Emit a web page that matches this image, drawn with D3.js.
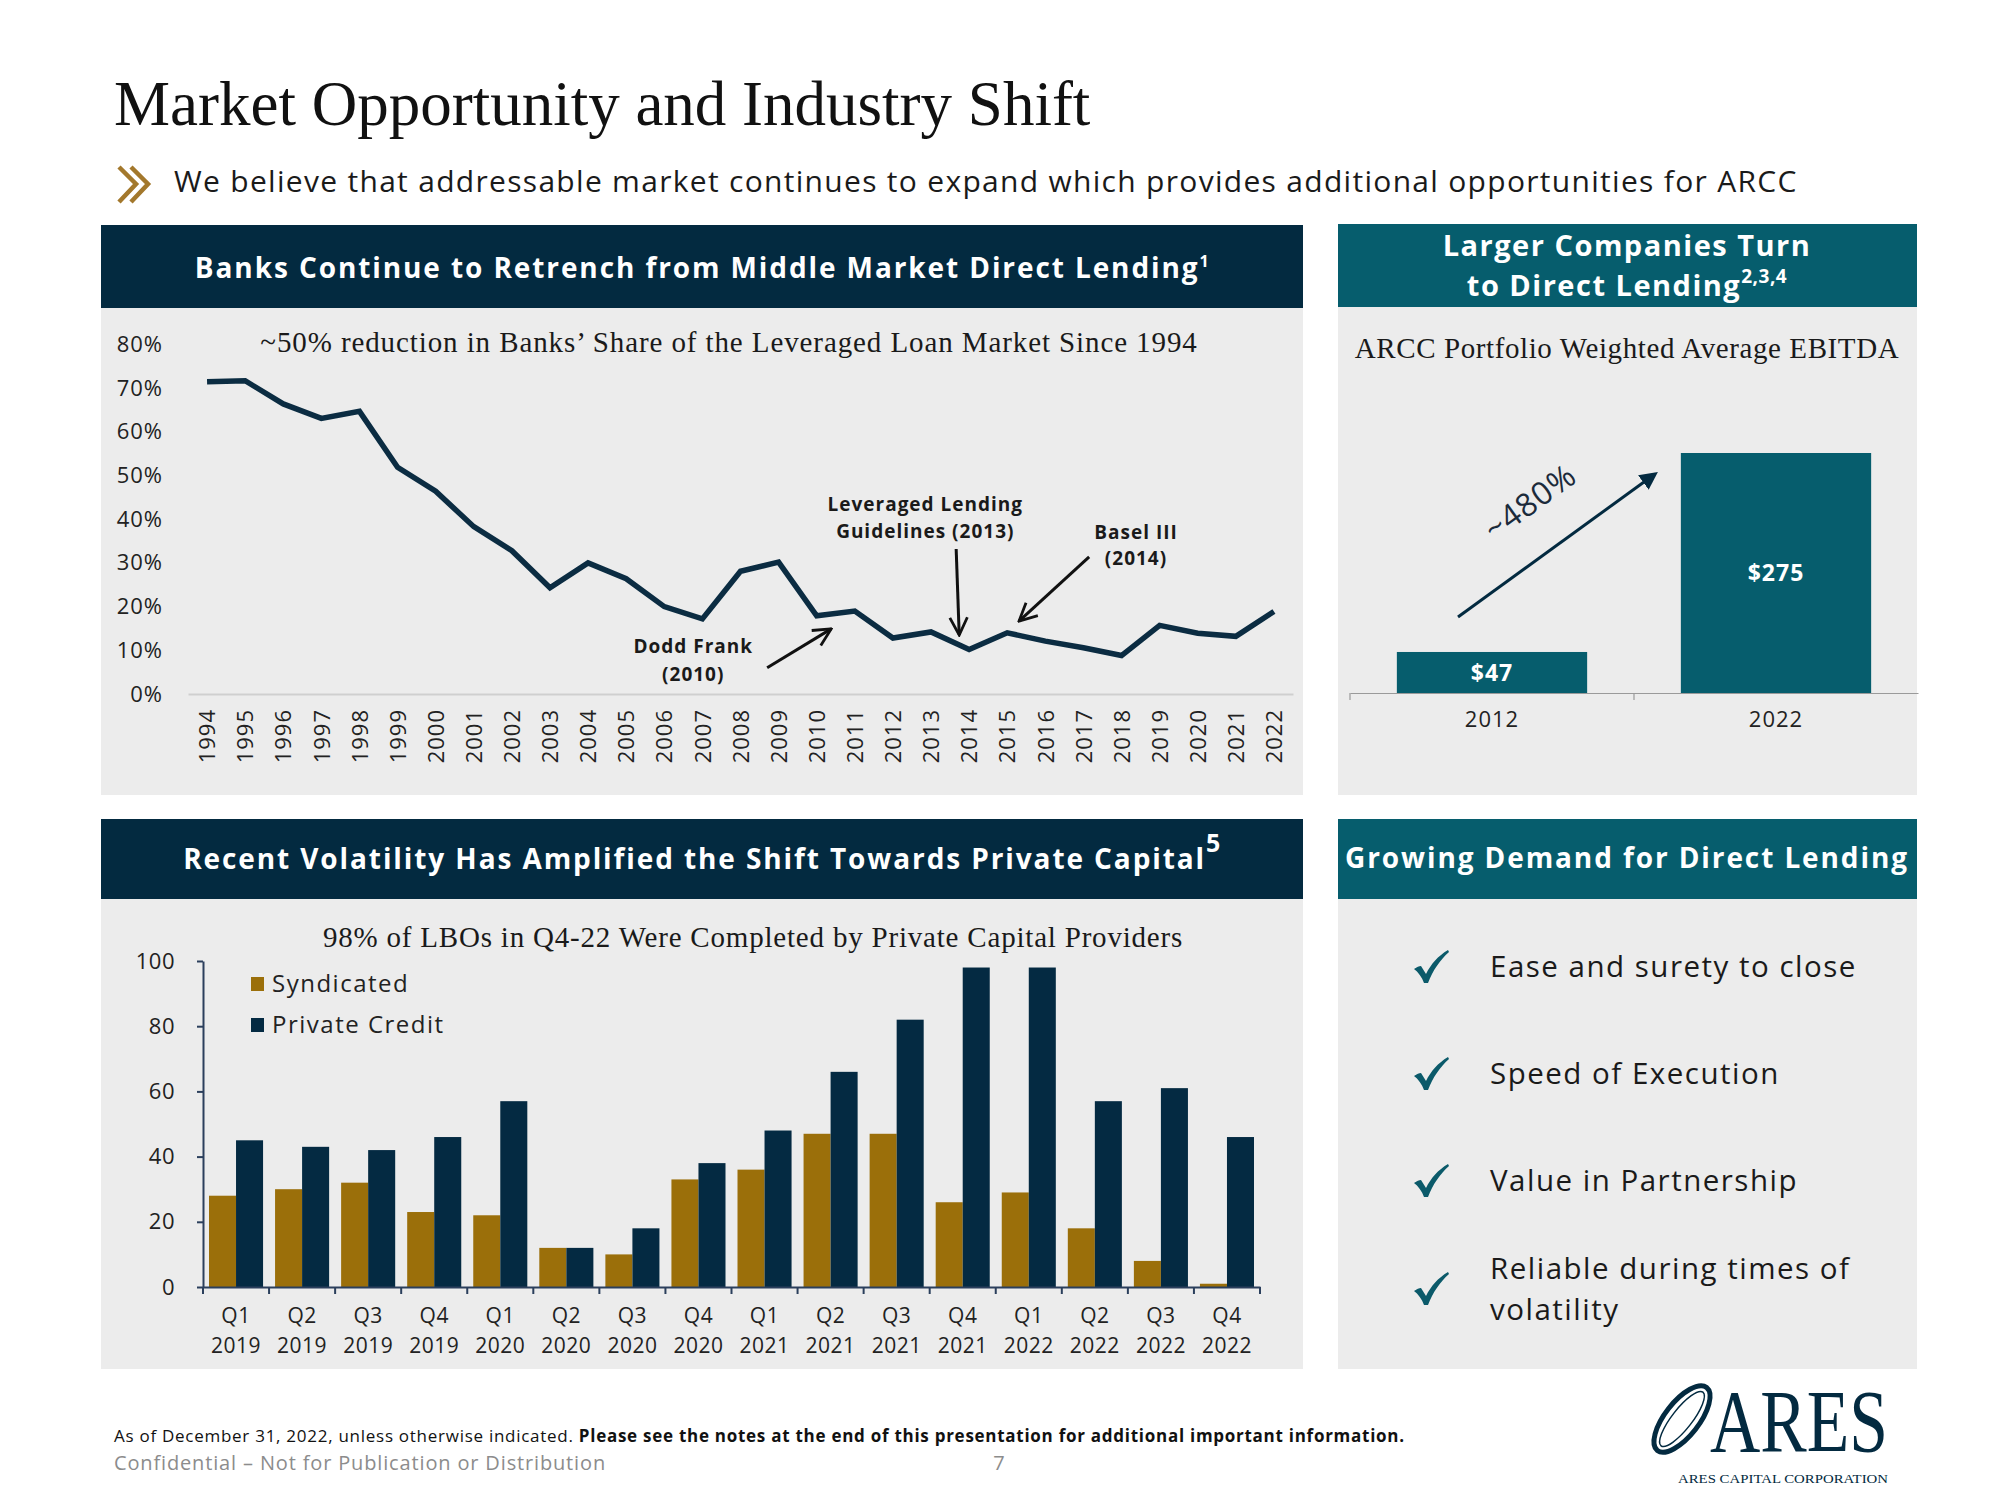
<!DOCTYPE html>
<html><head><meta charset="utf-8">
<script src="https://cdn.jsdelivr.net/npm/d3@7"></script>
<style>
html,body{margin:0;padding:0;background:#fff;}
svg{display:block;}
</style></head>
<body>
<svg id="c" width="2000" height="1500" font-family="Open Sans, sans-serif"></svg>
<script>
// ---------- DATA ----------
const years = ["1994","1995","1996","1997","1998","1999","2000","2001","2002","2003","2004","2005","2006","2007","2008","2009","2010","2011","2012","2013","2014","2015","2016","2017","2018","2019","2020","2021","2022"];
const bankShare = [71.5,71.7,66.4,63.1,64.7,51.9,46.4,38.3,32.8,24.3,30.0,26.4,20.0,17.2,28.1,30.2,17.9,19.0,12.8,14.2,10.2,14.0,12.1,10.6,8.8,15.7,13.9,13.2,18.9];
const bankTicks = [0,10,20,30,40,50,60,70,80];

const quarters = ["Q1 2019","Q2 2019","Q3 2019","Q4 2019","Q1 2020","Q2 2020","Q3 2020","Q4 2020","Q1 2021","Q2 2021","Q3 2021","Q4 2021","Q1 2022","Q2 2022","Q3 2022","Q4 2022"];
const syndicated = [28,30,32,23,22,12,10,33,36,47,47,26,29,18,8,1];
const privateCredit = [45,43,42,46,57,12,18,38,48,66,82,98,98,57,61,46];
const lboTicks = [0,20,40,60,80,100];
const seriesNames = ["Syndicated","Private Credit"];

const ebitdaYears = ["2012","2022"];
const ebitdaValues = [47,275];
const ebitdaLabels = ["$47","$275"];

const demandItems = [["Ease and surety to close"],["Speed of Execution"],["Value in Partnership"],["Reliable during times of","volatility"]];

// annotations: label lines, text at (yearIndex,value), arrow from, arrow to
const annotations = [
  {lines:["Leveraged Lending","Guidelines (2013)"], tx:18.85, ty:[43.3,37.3], from:[19.66,33.2], to:[19.74,13.5]},
  {lines:["Basel III","(2014)"], tx:24.38, ty:[36.9,31.1], from:[23.15,31.4], to:[21.31,16.7]},
  {lines:["Dodd Frank","(2010)"], tx:12.76, ty:[10.8,4.6], from:[14.7,6.0], to:[16.38,14.9]}
];

// ---------- STYLE ----------
const NAVY="#032a40", TEAL="#065d6d", GOLD="#9b6f0a", GRAY="#ececec", INK="#1a1a1a";
const SERIF="Liberation Serif, Times New Roman, serif";
const svg = d3.select("#c");
svg.append("rect").attr("width",2000).attr("height",1500).attr("fill","#fff");

// ---------- TITLE ----------
svg.append("text").attr("x",114).attr("y",125).attr("font-family",SERIF)
  .attr("font-size",63).attr("fill","#111").text("Market Opportunity and Industry Shift");
const chev = svg.append("g").attr("fill","none").attr("stroke","#a3782c").attr("stroke-width",4.5);
chev.append("path").attr("d","M119,167 L136,184 L119,202");
chev.append("path").attr("d","M131,167 L148,184 L131,202");
svg.append("text").attr("x",174).attr("y",192).attr("font-size",30).attr("fill",INK).attr("letter-spacing",1.3)
  .text("We believe that addressable market continues to expand which provides additional opportunities for ARCC");

// ---------- PANELS ----------
function panel(x,y,w,hh,hb,color){
  svg.append("rect").attr("x",x).attr("y",y).attr("width",w).attr("height",hh).attr("fill",color);
  svg.append("rect").attr("x",x).attr("y",y+hh).attr("width",w).attr("height",hb).attr("fill",GRAY);
}
panel(101,225,1202,83,487,NAVY);
panel(1338,224,579,83,488,TEAL);
panel(101,819,1202,80,470,NAVY);
panel(1338,819,579,80,470,TEAL);

function header(x,y,parts,size,ls){
  const t = svg.append("text").attr("x",x).attr("y",y).attr("text-anchor","middle")
    .attr("font-size",size).attr("font-weight","bold").attr("fill","#fff").attr("letter-spacing",ls);
  parts.forEach(p=>{
    const s=t.append("tspan").text(p.t);
    if(p.sup){s.attr("font-size",p.sup).attr("baseline-shift","super").attr("letter-spacing",0.5);}
  });
}
header(702,278,[{t:"Banks Continue to Retrench from Middle Market Direct Lending"},{t:"1",sup:16}],28,1.9);
header(1627,256,[{t:"Larger Companies Turn"}],29,1.5);
header(1627,296,[{t:"to Direct Lending"},{t:"2,3,4",sup:19}],29,1.5);
header(702,869,[{t:"Recent Volatility Has Amplified the Shift Towards Private Capital"},{t:"5",sup:25}],28,1.9);
header(1627,868,[{t:"Growing Demand for Direct Lending"}],28,1.9);

// ---------- LINE CHART ----------
const xL = d3.scalePoint().domain(years).range([188,1293]).padding(0.5);
const yL = d3.scaleLinear().domain([0,80]).range([694,344.5]);
const xi = d3.scaleLinear().domain([0,years.length-1]).range([xL(years[0]),xL(years[years.length-1])]);

svg.append("text").attr("x",729).attr("y",352).attr("text-anchor","middle")
  .attr("font-family",SERIF).attr("font-size",29).attr("letter-spacing",0.9).attr("fill",INK)
  .text("~50% reduction in Banks’ Share of the Leveraged Loan Market Since 1994");

const yAx = svg.append("g").attr("transform","translate(163,0)")
  .call(d3.axisLeft(yL).tickValues(bankTicks).tickSize(0).tickPadding(0).tickFormat(d=>d+"%"));
yAx.select(".domain").remove();
yAx.selectAll("text").attr("font-size",22).attr("letter-spacing",1).attr("fill","#222").attr("font-family","Open Sans");

const xAx = svg.append("g").attr("transform","translate(0,694)")
  .call(d3.axisBottom(xL).tickSize(0).tickSizeOuter(0));
xAx.select(".domain").attr("stroke","#cfcfcf").attr("stroke-width",2);
xAx.selectAll("text").attr("font-size",22).attr("letter-spacing",1).attr("fill","#222").attr("font-family","Open Sans")
  .attr("text-anchor","end").attr("transform","rotate(-90)").attr("x",-15).attr("y",0).attr("dy","0.35em");

svg.append("path").datum(bankShare)
  .attr("d",d3.line().x((d,i)=>xL(years[i])).y(d=>yL(d)))
  .attr("fill","none").attr("stroke","#0b2c42").attr("stroke-width",5.5).attr("stroke-linejoin","miter");

const defs = svg.append("defs");
defs.append("marker").attr("id","vhead").attr("viewBox","0 0 12 12").attr("refX",11).attr("refY",6)
  .attr("markerWidth",7).attr("markerHeight",7).attr("markerUnits","strokeWidth").attr("orient","auto")
  .append("path").attr("d","M1,1 L11,6 L1,11").attr("fill","none").attr("stroke","#111").attr("stroke-width",1.6);
defs.append("marker").attr("id","thead").attr("viewBox","0 0 10 10").attr("refX",8).attr("refY",5)
  .attr("markerWidth",6).attr("markerHeight",6).attr("markerUnits","strokeWidth").attr("orient","auto")
  .append("path").attr("d","M0,0 L10,5 L0,10 Z").attr("fill",NAVY);

annotations.forEach(a=>{
  a.lines.forEach((l,i)=>{
    svg.append("text").attr("x",xi(a.tx)).attr("y",yL(a.ty[i])).attr("dy","0.35em").attr("text-anchor","middle")
      .attr("font-size",19).attr("letter-spacing",1).attr("font-weight","bold").attr("fill",INK).text(l);
  });
  svg.append("line").attr("x1",xi(a.from[0])).attr("y1",yL(a.from[1])).attr("x2",xi(a.to[0])).attr("y2",yL(a.to[1]))
    .attr("stroke","#111").attr("stroke-width",3).attr("marker-end","url(#vhead)");
});

// ---------- EBITDA BAR CHART ----------
svg.append("text").attr("x",1627).attr("y",358).attr("text-anchor","middle")
  .attr("font-family",SERIF).attr("font-size",29).attr("letter-spacing",0.6).attr("fill",INK)
  .text("ARCC Portfolio Weighted Average EBITDA");
const xE = d3.scaleBand().domain(ebitdaYears).range([1350,1918]).paddingInner(0.33).paddingOuter(0.165);
const xEb = d3.scaleBand().domain(ebitdaYears).range([1350,1918]).padding(0);
const yE = d3.scaleLinear().domain([0,275]).range([693,453]);
svg.selectAll(".eb").data(ebitdaValues).join("rect")
  .attr("x",(d,i)=>xE(ebitdaYears[i])).attr("width",xE.bandwidth())
  .attr("y",d=>yE(d)).attr("height",d=>yE(0)-yE(d)).attr("fill",TEAL);
svg.selectAll(".el").data(ebitdaValues).join("text")
  .attr("x",(d,i)=>xE(ebitdaYears[i])+xE.bandwidth()/2).attr("y",d=>(yE(d)+yE(0))/2).attr("dy","0.35em")
  .attr("text-anchor","middle").attr("font-size",23).attr("letter-spacing",1).attr("font-weight","bold").attr("fill","#fff")
  .text((d,i)=>ebitdaLabels[i]);
const eAx = svg.append("g").attr("transform","translate(0,693)").call(d3.axisBottom(xEb).tickSize(0).tickSizeOuter(0).tickPadding(18));
eAx.select(".domain").attr("stroke","#9a9a9a").attr("stroke-width",1.2);
eAx.selectAll("text").attr("font-size",22).attr("letter-spacing",1).attr("fill","#222").attr("font-family","Open Sans");
svg.selectAll(".etick").data(ebitdaYears).join("line")
  .attr("x1",d=>xEb(d)).attr("x2",d=>xEb(d)).attr("y1",693).attr("y2",700).attr("stroke","#9a9a9a").attr("stroke-width",1.2);
svg.append("line").attr("x1",1458).attr("y1",617).attr("x2",1655).attr("y2",474)
  .attr("stroke",NAVY).attr("stroke-width",3).attr("marker-end","url(#thead)");
svg.append("text").attr("transform","translate(1530,502) rotate(-36)").attr("text-anchor","middle").attr("dy","0.35em")
  .attr("font-size",32).attr("letter-spacing",1).attr("fill","#1b2a3a").text("~480%");

// ---------- LBO BAR CHART ----------
svg.append("text").attr("x",753).attr("y",947).attr("text-anchor","middle")
  .attr("font-family",SERIF).attr("font-size",29).attr("letter-spacing",0.8).attr("fill",INK)
  .text("98% of LBOs in Q4-22 Were Completed by Private Capital Providers");
const x0 = d3.scaleBand().domain(quarters).range([203,1260]).padding(0);
const x1 = d3.scaleBand().domain(seriesNames).range([6,x0.bandwidth()-6]).padding(0);
const yB = d3.scaleLinear().domain([0,100]).range([1287,961]);
const seriesVals = [syndicated,privateCredit];
const seriesCol = [GOLD,"#042a42"];
seriesNames.forEach((s,k)=>{
  svg.selectAll(".b"+k).data(seriesVals[k]).join("rect")
    .attr("x",(d,i)=>x0(quarters[i])+x1(s)).attr("width",x1.bandwidth())
    .attr("y",d=>yB(d)).attr("height",d=>yB(0)-yB(d)).attr("fill",seriesCol[k]);
});
const AXC="#2b3f5c";
const bY = svg.append("g").attr("transform","translate(203,0)")
  .call(d3.axisLeft(yB).tickValues(lboTicks).tickSize(6).tickSizeOuter(0).tickPadding(22));
bY.selectAll("path,line").attr("stroke",AXC).attr("stroke-width",2);
bY.selectAll("text").attr("font-size",22).attr("letter-spacing",0.5).attr("fill","#222").attr("font-family","Open Sans");
const bX = svg.append("g").attr("transform","translate(0,1287)")
  .call(d3.axisBottom(x0).tickSize(0).tickSizeOuter(0).tickFormat(""));
bX.select(".domain").attr("stroke",AXC).attr("stroke-width",2);
svg.selectAll(".qt").data(quarters.concat(["end"])).join("line")
  .attr("x1",(d,i)=>i<quarters.length?x0(d):x0.range()[1]).attr("x2",(d,i)=>i<quarters.length?x0(d):x0.range()[1])
  .attr("y1",1287).attr("y2",1294).attr("stroke",AXC).attr("stroke-width",2);
quarters.forEach(q=>{
  const [a,b]=q.split(" ");
  const cx=x0(q)+x0.bandwidth()/2;
  svg.append("text").attr("x",cx).attr("y",1316).attr("dy","0.35em").attr("text-anchor","middle")
    .attr("font-size",21).attr("letter-spacing",0.5).attr("fill","#222").text(a);
  svg.append("text").attr("x",cx).attr("y",1346).attr("dy","0.35em").attr("text-anchor","middle")
    .attr("font-size",21).attr("letter-spacing",0.5).attr("fill","#222").text(b);
});
seriesNames.forEach((s,k)=>{
  const cy = 984 + k*41;
  svg.append("rect").attr("x",251).attr("y",cy-7).attr("width",13).attr("height",14).attr("fill",seriesCol[k]);
  svg.append("text").attr("x",272).attr("y",cy).attr("dy","0.35em").attr("font-size",24).attr("letter-spacing",1.5).attr("fill","#222").text(s);
});

// ---------- DEMAND LIST ----------
const itemY = [967,1074,1181,1289];
const checkPath = "M0,19 C3,17 5,16 7,16 L12,24 C17,14 24,6 34,0 L35,2 C26,10 19,20 14,33 L10,33 C8,27 4,22 0,19 Z";
demandItems.forEach((lines,i)=>{
  svg.append("path").attr("d",checkPath).attr("fill","#0b5a6a")
    .attr("transform",`translate(${1431-17},${itemY[i]-17})`);
  lines.forEach((l,j)=>{
    const yy = lines.length===1 ? itemY[i] : itemY[i]-20+j*41;
    svg.append("text").attr("x",1490).attr("y",yy).attr("dy","0.35em").attr("font-size",29.5).attr("fill",INK)
      .attr("letter-spacing",1.5).text(l);
  });
});

// ---------- FOOTER ----------
const f = svg.append("text").attr("x",114).attr("y",1442).attr("font-size",17).attr("letter-spacing",0.73).attr("fill","#111");
f.append("tspan").text("As of December 31, 2022, unless otherwise indicated. ");
f.append("tspan").attr("font-weight","bold").text("Please see the notes at the end of this presentation for additional important information.");
svg.append("text").attr("x",114).attr("y",1470).attr("font-size",20).attr("letter-spacing",0.85).attr("fill","#8c8c8c")
  .text("Confidential – Not for Publication or Distribution");
svg.append("text").attr("x",999).attr("y",1470).attr("text-anchor","middle").attr("font-size",20).attr("fill","#8c8c8c").text("7");

// logo
const lg = svg.append("g");
lg.append("ellipse").attr("cx",1682).attr("cy",1419).attr("rx",40).attr("ry",17)
  .attr("transform","rotate(-52 1682 1419)").attr("fill","none").attr("stroke",NAVY).attr("stroke-width",5);
lg.append("ellipse").attr("cx",1682).attr("cy",1419).attr("rx",34).attr("ry",10)
  .attr("transform","rotate(-52 1682 1419)").attr("fill","none").attr("stroke",NAVY).attr("stroke-width",1.5);
lg.append("text").attr("x",1710).attr("y",1451).attr("font-family",SERIF).attr("font-size",88)
  .attr("fill",NAVY).attr("textLength",178).attr("lengthAdjust","spacingAndGlyphs").text("ARES");
lg.append("text").attr("x",1678).attr("y",1483).attr("font-family",SERIF).attr("font-size",12.5)
  .attr("fill",NAVY).attr("textLength",210).attr("lengthAdjust","spacingAndGlyphs").text("ARES CAPITAL CORPORATION");
</script>
</body></html>
